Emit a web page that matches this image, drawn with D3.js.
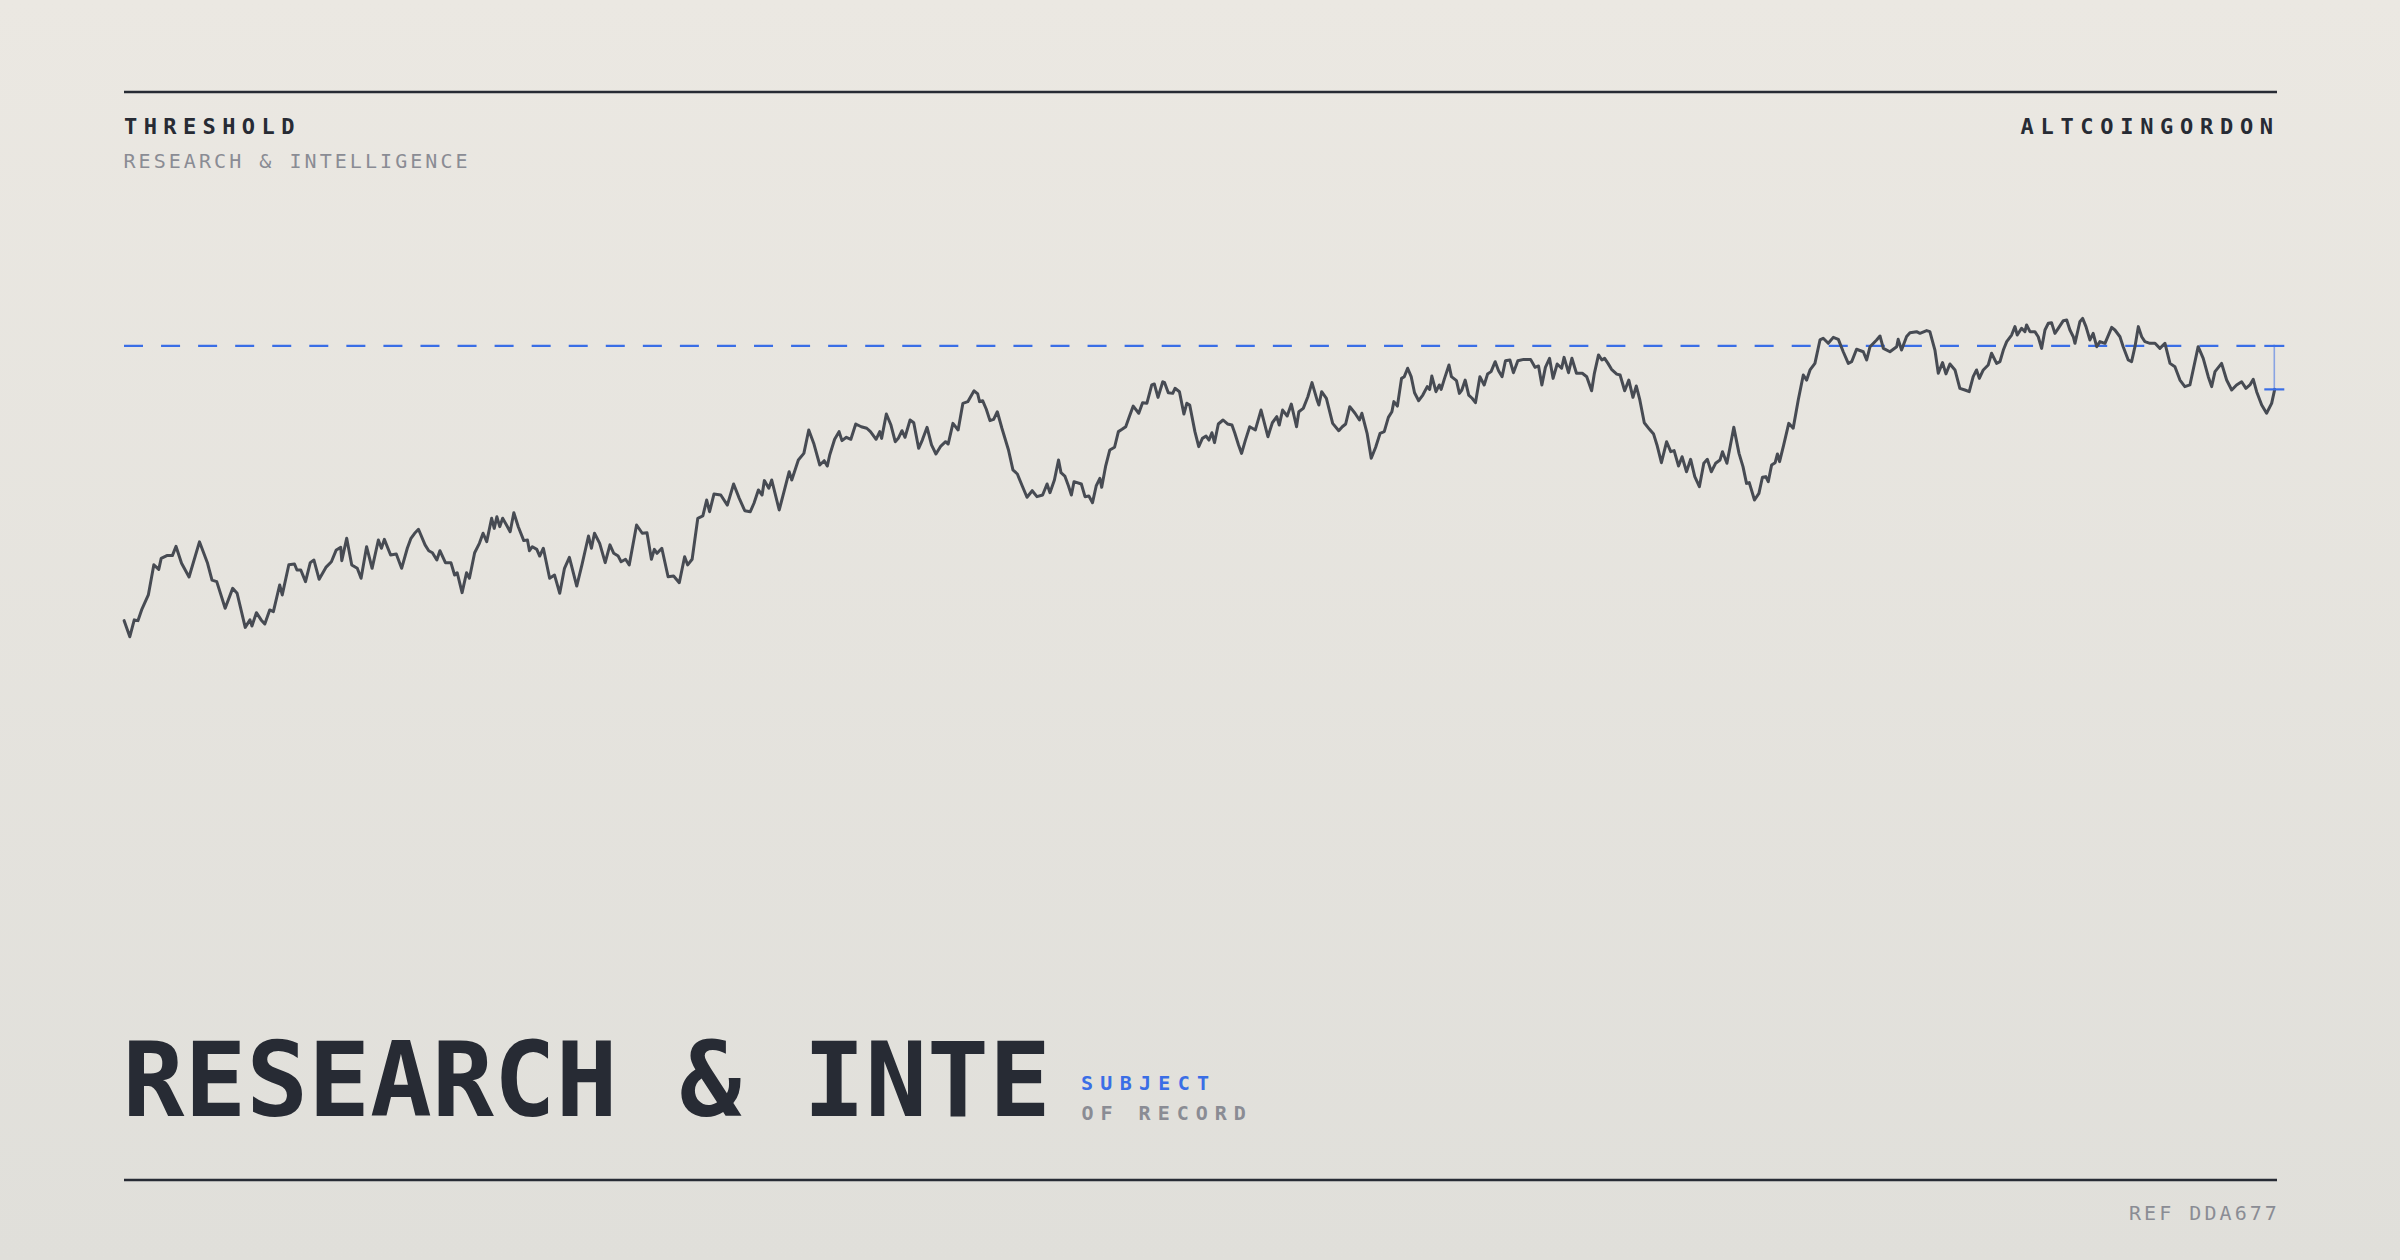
<!DOCTYPE html>
<html>
<head>
<meta charset="utf-8">
<script src="https://cdn.jsdelivr.net/npm/d3@7"></script>
<style>
  html, body { margin: 0; padding: 0; background: #e6e4df; }
  body { width: 2400px; height: 1260px; overflow: hidden; }
  svg { display: block; }
</style>
</head>
<body>
<svg id="chart" width="2400" height="1260"></svg>
<script>
// ---------- text content ----------
const brandLines = ["THRESHOLD", "RESEARCH & INTELLIGENCE"];
const handleLabel = ["ALTCOINGORDON"];
const titleLabel = ["RESEARCH & INTE"];
const subjectLines = ["SUBJECT", "OF RECORD"];
const refLabel = ["REF DDA677"];

// ---------- data ----------
const thresholdLevel = [2.74];

// [day, price]
const priceSeries = [
  [0.1,0.945],[3.8,0.840],[6.7,0.950],[9.1,0.945],[11.5,1.015],[15.9,1.113],[19.5,1.310],[22.7,1.280],[24.3,1.352],[28.0,1.370],
  [31.6,1.370],[34.0,1.430],[37.6,1.320],[42.5,1.230],[49.3,1.460],[54.6,1.320],[57.5,1.210],[60.6,1.200],[66.1,1.026],[71.0,1.156],
  [73.9,1.124],[79.2,0.901],[82.3,0.950],[83.6,0.910],[86.5,0.997],[89.6,0.950],[92.0,0.923],[95.2,1.015],[97.6,1.004],[101.7,1.178],
  [103.4,1.113],[107.7,1.310],[111.4,1.315],[113.0,1.276],[115.5,1.276],[118.6,1.200],[121.7,1.324],[124.1,1.341],[127.5,1.215],[131.9,1.293],
  [135.5,1.330],[138.7,1.407],[141.6,1.424],[142.3,1.337],[145.5,1.483],[148.8,1.309],[152.4,1.287],[154.9,1.222],[158.5,1.428],[162.1,1.287],
  [166.2,1.472],[168.2,1.418],[170.1,1.476],[174.2,1.374],[177.9,1.380],[181.4,1.287],[185.1,1.418],[187.5,1.483],[189.9,1.516],[192.4,1.542],
  [196.7,1.440],[199.1,1.402],[201.5,1.389],[204.4,1.341],[206.4,1.402],[210.0,1.324],[213.6,1.324],[216.0,1.243],[217.7,1.258],[220.9,1.128],
  [223.8,1.258],[225.7,1.222],[229.1,1.389],[232.2,1.450],[234.6,1.516],[237.0,1.461],[240.2,1.614],[241.9,1.548],[243.6,1.624],[245.5,1.559],
  [247.4,1.614],[249.9,1.570],[252.3,1.526],[254.7,1.650],[257.6,1.559],[261.2,1.468],[263.6,1.472],[264.9,1.402],[266.8,1.428],[269.7,1.411],
  [271.6,1.367],[274.0,1.418],[278.1,1.222],[281.3,1.243],[284.7,1.124],[287.8,1.287],[291.0,1.359],[295.8,1.171],[299.2,1.309],[303.5,1.498],
  [305.4,1.418],[307.4,1.516],[310.8,1.450],[314.4,1.324],[317.5,1.440],[320.0,1.385],[322.9,1.367],[324.8,1.330],[327.7,1.346],[330.1,1.309],
  [334.9,1.570],[338.6,1.516],[341.7,1.520],[344.6,1.346],[346.5,1.411],[348.3,1.385],[351.4,1.418],[355.5,1.232],[359.1,1.237],[362.8,1.193],
  [366.3,1.363],[368.3,1.309],[371.2,1.346],
  [374.9,1.614],[378.2,1.629],[380.7,1.733],[382.6,1.657],[385.5,1.773],[389.9,1.766],[394.2,1.700],[398.3,1.838],[402.0,1.744],[405.6,1.663],
  [409.2,1.657],[411.6,1.712],[414.5,1.799],[416.9,1.766],[418.4,1.860],[421.3,1.810],[423.2,1.864],[428.1,1.668],[431.4,1.794],[434.6,1.918],
  [436.3,1.864],[440.6,1.995],[444.2,2.038],[447.4,2.191],[450.8,2.099],[454.6,1.962],[457.5,1.990],[459.5,1.955],[461.1,2.027],[464.3,2.130],
  [467.2,2.180],[469.1,2.121],[472.0,2.143],[474.9,2.130],[478.1,2.230],[481.7,2.212],[485.3,2.202],[487.7,2.180],[491.4,2.130],[493.8,2.180],
  [495.0,2.136],[498.1,2.295],[501.1,2.223],[503.9,2.114],[505.9,2.136],[508.3,2.186],[510.3,2.143],[513.6,2.256],[516.0,2.238],[519.2,2.071],
  [521.6,2.125],[524.7,2.208],[527.6,2.093],[530.5,2.034],[533.7,2.086],[536.8,2.114],[538.5,2.099],[541.6,2.234],[545.0,2.191],[548.1,2.365],
  [551.3,2.376],[555.4,2.447],[557.8,2.426],[559.0,2.376],[561.0,2.382],[563.4,2.326],[565.8,2.252],[568.2,2.260],[570.6,2.310],[573.6,2.202],
  [577.9,2.060],[580.8,1.930],[583.7,1.903],[586.9,1.825],[590.0,1.751],[593.4,1.794],[596.5,1.755],[600.2,1.766],[603.1,1.838],[605.0,1.781],
  [607.9,1.864],[610.6,1.995],[612.2,1.912],[614.7,1.890],[617.1,1.825],[619.0,1.766],[620.7,1.853],[625.5,1.838],[627.9,1.755],[630.4,1.759],
  [632.8,1.716],[635.2,1.825],[637.6,1.875],[638.8,1.816],[641.3,1.951],[644.1,2.060],[647.2,2.078],[649.7,2.180],[652.1,2.195],[654.5,2.212],
  [657.0,2.282],[659.4,2.347],[663.0,2.300],[665.5,2.369],[668.3,2.365],[671.5,2.485],[673.2,2.491],[675.6,2.404],[678.7,2.506],[679.9,2.500],
  [682.3,2.434],[685.2,2.430],[686.7,2.463],[689.6,2.441],[692.5,2.295],[694.4,2.365],[696.3,2.354],[699.7,2.180],[702.2,2.082],[704.6,2.136],
  [707.0,2.151],[708.9,2.125],[710.8,2.173],[712.5,2.108],[715.0,2.230],[718.1,2.256],[721.0,2.230],[723.9,2.223],[725.8,2.169],[728.2,2.093],
  [730.2,2.038],[732.6,2.121],[735.5,2.212],[739.2,2.191],
  [742.9,2.321],[747.4,2.147],[750.3,2.238],[753.2,2.278],[754.8,2.223],[757.0,2.321],[760.0,2.282],[762.7,2.360],[766.1,2.212],[767.6,2.310],
  [770.5,2.332],[773.5,2.408],[776.2,2.500],[779.5,2.387],[780.7,2.354],[782.5,2.441],[785.6,2.398],[789.7,2.234],[793.7,2.186],[796.0,2.212],
  [798.2,2.230],[800.9,2.343],[804.3,2.300],[807.2,2.256],[808.8,2.300],[812.2,2.169],[814.9,2.006],[817.8,2.078],[820.7,2.169],[823.4,2.180],
  [826.1,2.273],[828.4,2.310],[829.7,2.376],[832.0,2.347],[834.7,2.528],[836.5,2.539],[838.7,2.594],[841.0,2.539],[843.2,2.434],[845.9,2.382],
  [848.6,2.419],[851.5,2.474],[853.1,2.456],[854.5,2.543],[857.2,2.441],[859.4,2.485],[860.6,2.456],[862.8,2.528],[865.7,2.615],[867.3,2.539],
  [870.6,2.513],[872.5,2.430],[874.1,2.452],[876.3,2.517],[878.6,2.419],[880.8,2.398],[883.0,2.369],[885.9,2.539],[888.7,2.485],[890.9,2.556],
  [893.2,2.572],[895.9,2.637],[898.1,2.578],[900.4,2.539],[902.6,2.643],[905.5,2.648],[907.8,2.565],[910.7,2.643],[914.5,2.652],[919.0,2.652],
  [921.9,2.600],[924.2,2.609],[926.4,2.485],[928.7,2.600],[931.4,2.659],[933.7,2.528],[936.4,2.622],[939.3,2.594],[940.9,2.665],[943.8,2.565],
  [946.0,2.659],[949.0,2.561],[952.8,2.561],[955.7,2.539],[958.9,2.447],[960.7,2.561],[963.4,2.681],[965.6,2.648],[967.4,2.659],[969.6,2.626],
  [971.9,2.587],[975.3,2.556],[977.5,2.550],[980.5,2.447],[983.2,2.517],[985.9,2.404],[988.1,2.478],[990.4,2.387],[993.3,2.238],[996.7,2.195],
  [999.4,2.164],[1001.6,2.093],[1004.5,1.977],[1007.9,2.114],[1010.6,2.049],[1012.8,2.056],[1015.7,1.955],[1018.0,2.016],[1020.9,1.918],[1023.6,1.999],
  [1026.3,1.886],[1029.3,1.820],[1032.2,1.973],[1034.5,1.999],[1037.1,1.918],[1039.9,1.973],[1042.8,1.995],[1044.4,2.049],[1047.3,1.973],[1049.6,2.093],
  [1051.8,2.208],[1055.2,2.038],[1057.8,1.951],[1060.1,1.842],[1061.9,1.847],[1065.3,1.733],[1068.2,1.777],[1070.5,1.882],[1072.7,1.886],[1074.3,1.853],
  [1076.5,1.962],[1078.8,1.977],[1080.3,2.034],[1081.7,1.984],[1084.4,2.093],[1087.7,2.234],
  [1090.6,2.202],[1093.9,2.387],[1097.2,2.550],[1099.4,2.517],[1101.6,2.583],[1104.8,2.626],[1108.1,2.779],[1110.2,2.790],[1113.5,2.757],[1116.8,2.796],
  [1120.1,2.783],[1123.3,2.702],[1126.6,2.626],[1128.8,2.637],[1132.0,2.718],[1136.4,2.702],[1138.6,2.648],[1140.8,2.735],[1145.1,2.779],[1147.3,2.805],
  [1149.5,2.724],[1153.8,2.702],[1158.2,2.735],[1159.2,2.783],[1161.4,2.713],[1164.7,2.801],[1166.9,2.826],[1171.2,2.833],[1173.4,2.822],[1177.8,2.840],
  [1179.9,2.833],[1183.2,2.713],[1185.4,2.561],[1188.2,2.631],[1190.4,2.557],[1193.0,2.622],[1196.3,2.583],[1199.5,2.463],[1202.8,2.452],[1205.6,2.441],
  [1208.2,2.539],[1210.4,2.583],[1212.2,2.528],[1214.8,2.583],[1218.0,2.615],[1220.2,2.692],[1223.5,2.626],[1225.7,2.637],[1227.9,2.713],[1230.1,2.768],
  [1233.3,2.811],[1235.5,2.866],[1237.0,2.811],[1239.8,2.855],[1242.0,2.833],[1243.1,2.877],[1245.3,2.833],[1248.5,2.833],[1250.7,2.800],[1252.9,2.724],
  [1255.1,2.844],[1257.3,2.888],[1259.4,2.892],[1261.6,2.822],[1263.8,2.855],[1267.1,2.905],[1269.3,2.909],[1271.4,2.844],[1273.6,2.800],[1274.7,2.757],
  [1277.9,2.898],[1279.7,2.920],[1281.9,2.866],[1284.5,2.779],[1286.6,2.822],[1288.9,2.735],[1291.0,2.768],[1294.3,2.757],[1298.7,2.861],[1300.8,2.844],
  [1304.1,2.800],[1306.2,2.735],[1309.5,2.648],[1311.7,2.637],[1313.9,2.735],[1316.1,2.866],[1318.3,2.800],[1320.4,2.768],[1323.7,2.757],[1327.0,2.757],
  [1330.2,2.724],[1333.5,2.757],[1336.8,2.626],[1340.0,2.604],[1343.3,2.517],[1346.5,2.474],[1349.8,2.485],[1355.2,2.735],[1358.5,2.659],[1361.8,2.539],
  [1364.0,2.474],[1366.2,2.572],[1370.5,2.626],[1373.8,2.517],[1377.1,2.452],[1380.3,2.485],[1383.6,2.506],[1386.4,2.463],[1389.0,2.485],[1391.2,2.522],
  [1393.4,2.441],[1396.7,2.354],[1399.9,2.300],[1403.2,2.365],[1405.2,2.456]
];

// ---------- drawing ----------
const W = 2400, H = 1260;
const svg = d3.select("#chart");
const FONT = "'DejaVu Sans Mono', 'Liberation Mono', monospace";
const INK = "#272b34";
const MUTED = "#8a8c94";
const BLUE = "#3a6ee6";

const defs = svg.append("defs");
const grad = defs.append("linearGradient").attr("id", "bg")
  .attr("x1", 0).attr("y1", 0).attr("x2", 0).attr("y2", 1);
grad.append("stop").attr("offset", "0%").attr("stop-color", "#ebe8e2");
grad.append("stop").attr("offset", "100%").attr("stop-color", "#e0dfda");
svg.append("rect").attr("width", W).attr("height", H).attr("fill", "url(#bg)");

const frameLeft = 124, frameRight = 2277;

// rules
svg.append("line").attr("x1", frameLeft).attr("x2", frameRight).attr("y1", 92).attr("y2", 92)
  .attr("stroke", INK).attr("stroke-width", 2.4);
svg.append("line").attr("x1", frameLeft).attr("x2", frameRight).attr("y1", 1180).attr("y2", 1180)
  .attr("stroke", INK).attr("stroke-width", 2.4);

// header
svg.append("text").text(brandLines[0])
  .attr("x", 124).attr("y", 134.3)
  .attr("font-family", FONT).attr("font-weight", 700).attr("font-size", 22)
  .attr("letter-spacing", 6.4).attr("fill", INK);
svg.append("text").text(brandLines[1])
  .attr("x", 123.5).attr("y", 167.7)
  .attr("font-family", FONT).attr("font-weight", 400).attr("font-size", 20)
  .attr("letter-spacing", 3.05).attr("fill", MUTED);
svg.append("text").text(handleLabel[0])
  .attr("x", 2020.5).attr("y", 134.3)
  .attr("font-family", FONT).attr("font-weight", 700).attr("font-size", 22)
  .attr("letter-spacing", 6.7).attr("fill", INK);

// scales
const x = d3.scaleLinear()
  .domain([0, d3.max(priceSeries, d => d[0])])
  .range([124, 2274.7]);
const y = d3.scaleLinear()
  .domain([0.8, 3.0])
  .range([642.85, 306.12]);

// threshold dashed line
const thrY = y(thresholdLevel[0]);
svg.append("line")
  .attr("x1", x.range()[0]).attr("x2", x.range()[1])
  .attr("y1", thrY).attr("y2", thrY)
  .attr("stroke", BLUE).attr("stroke-width", 2.2)
  .attr("stroke-dasharray", "19 18.06");

// price line
const line = d3.line()
  .x(d => x(d[0]))
  .y(d => y(d[1]))
  .curve(d3.curveLinear);
svg.append("path")
  .datum(priceSeries)
  .attr("d", line)
  .attr("fill", "none")
  .attr("stroke", "#474b53")
  .attr("stroke-width", 3)
  .attr("stroke-linejoin", "round")
  .attr("stroke-linecap", "round");

// gap bracket from last value to threshold
const last = priceSeries[priceSeries.length - 1];
const bx = x(last[0]) - 0.4;
const lastY = y(last[1]);
svg.append("line")
  .attr("x1", bx).attr("x2", bx).attr("y1", thrY).attr("y2", lastY)
  .attr("stroke", BLUE).attr("stroke-opacity", 0.55).attr("stroke-width", 1.6);
[thrY, lastY].forEach(cy => {
  svg.append("line")
    .attr("x1", bx - 10).attr("x2", bx + 10).attr("y1", cy).attr("y2", cy)
    .attr("stroke", BLUE).attr("stroke-width", 2.2);
});

// big title
svg.append("text").text(titleLabel[0])
  .attr("x", 122.5).attr("y", 1116)
  .attr("font-family", FONT).attr("font-weight", 700).attr("font-size", 102.8)
  .attr("fill", INK);

svg.append("text").text(subjectLines[0])
  .attr("x", 1081).attr("y", 1090)
  .attr("font-family", FONT).attr("font-weight", 700).attr("font-size", 20)
  .attr("letter-spacing", 7.3).attr("fill", BLUE);
svg.append("text").text(subjectLines[1])
  .attr("x", 1081.5).attr("y", 1120)
  .attr("font-family", FONT).attr("font-weight", 700).attr("font-size", 20)
  .attr("letter-spacing", 7.0).attr("fill", MUTED);

// footer
svg.append("text").text(refLabel[0])
  .attr("x", 2129).attr("y", 1220)
  .attr("font-family", FONT).attr("font-weight", 400).attr("font-size", 20)
  .attr("letter-spacing", 3.05).attr("fill", MUTED);
</script>
</body>
</html>
